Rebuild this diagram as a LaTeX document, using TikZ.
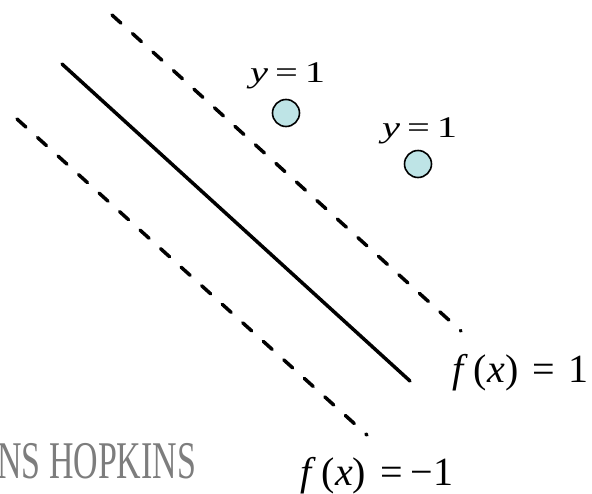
\documentclass[tikz,border=0pt]{standalone}
\usepackage{fontspec}
\setmainfont{Liberation Serif}
\definecolor{ptfill}{RGB}{190,228,230}
\definecolor{logogray}{RGB}{125,125,125}

\begin{document}
\begin{tikzpicture}[x=1pt,y=-1pt,line cap=round,
  margin/.style={line width=3.5pt,dash pattern=on 12pt off 15.65pt},
  boundary/.style={line width=3.5pt},
  sample/.style={circle,draw,line width=1.6pt,fill=ptfill,minimum size=27pt,inner sep=0pt},
  lbl/.style={inner sep=0pt,anchor=base west}]
\useasboundingbox (0,0) rectangle (592,493);
% margins and separating line
\draw[margin] (112,15) -- (461,331);
\draw[boundary] (62,64) -- (410,381);
\draw[margin] (17,119) -- (367,435);
% samples
\node[sample] (p1) at (286,113) {};
\node[sample] (p2) at (418,164) {};
\node[lbl] (l1) at (250,82) {\scalebox{1.35}[1]{\fontsize{30}{36}\selectfont\textit{y}\hspace{0.17em}=\hspace{0.17em}1}};
\node[lbl] (l2) at (382,137) {\scalebox{1.35}[1]{\fontsize{30}{36}\selectfont\textit{y}\hspace{0.17em}=\hspace{0.17em}1}};
\node[lbl,font=\fontsize{40}{48}\selectfont] (fpos) at (452,382) {\textit{f}\hspace{0.15em}(\textit{x})\hspace{0.35em}=\hspace{0.35em}1};
\node[lbl,font=\fontsize{40}{48}\selectfont] (fneg) at (300,485) {\textit{f}\hspace{0.15em}(\textit{x})\hspace{0.35em}=\hspace{0.2em}−1};
\node[lbl,text=logogray] (logo) at (-3,478) {\scalebox{0.64}[1]{\fontsize{53}{60}\selectfont NS HOPKINS}};
\end{tikzpicture}
\end{document}
